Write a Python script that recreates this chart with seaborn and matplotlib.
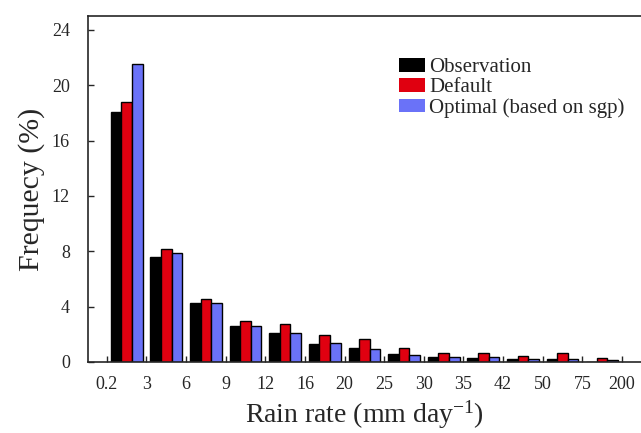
import numpy as np
import pandas as pd
import matplotlib
matplotlib.use("Agg")
import matplotlib.pyplot as plt
import seaborn as sns

# Bornes des classes de pluie (mm/jour)
bin_edges = ["0.2", "3", "6", "9", "12", "16", "20", "25", "30", "35", "42", "50", "75", "200"]
observation = [18.05, 7.6, 4.25, 2.6, 2.1, 1.3, 1.0, 0.58, 0.38, 0.26, 0.18, 0.18, 0.0]
default = [18.8, 8.15, 4.55, 2.95, 2.75, 1.95, 1.65, 1.03, 0.65, 0.65, 0.43, 0.63, 0.27]
optimal = [21.5, 7.9, 4.25, 2.57, 2.13, 1.37, 0.94, 0.53, 0.36, 0.36, 0.24, 0.24, 0.14]
series_names = ["Observation", "Default", "Optimal (based on sgp)"]

bins = [f"{a}-{b}" for a, b in zip(bin_edges[:-1], bin_edges[1:])]
df = pd.DataFrame({
    "bin": bins * 3,
    "freq": observation + default + optimal,
    "run": np.repeat(series_names, len(bins)),
})

sns.set_style("ticks")
plt.rcParams["font.family"] = ["Liberation Serif", "DejaVu Serif"]
plt.rcParams["mathtext.fontset"] = "custom"
plt.rcParams["mathtext.rm"] = "Liberation Serif"
plt.rcParams["mathtext.it"] = "Liberation Serif:italic"

fig = plt.figure(figsize=(6.41, 4.33), dpi=100)
ax = fig.add_axes([0.137, 0.164, 0.863, 0.799])

palette = ["#000000", "#e00010", "#6a72f8"]
sns.barplot(data=df, x="bin", y="freq", hue="run", order=bins, hue_order=series_names,
            palette=palette, saturation=1, edgecolor="black", linewidth=1.0, width=0.8, ax=ax)

ax.set_xlim(-0.98, 12.98)
ax.set_ylim(0, 25)
ax.set_xticks(np.arange(len(bin_edges)) - 0.5)
ax.set_xticklabels(bin_edges, fontsize=13)
ax.set_yticks(range(0, 25, 4))
ax.tick_params(axis="y", labelsize=13, pad=13)
ax.tick_params(axis="x", pad=10)
ax.tick_params(direction="in", length=4, width=1)
ax.spines["right"].set_visible(False)
for s in ["left", "bottom", "top"]:
    ax.spines[s].set_linewidth(1.2)

ax.set_xlabel("Rain rate (mm day$^{-1}$)", fontsize=20, labelpad=4)
ax.set_ylabel("Frequecy (%)", fontsize=21.5, labelpad=5)

leg = ax.legend(loc="upper left", bbox_to_anchor=(0.547, 0.902), frameon=False,
                fontsize=15, handlelength=1.25, handleheight=0.6, handletextpad=0.2,
                labelspacing=0.05, borderaxespad=0)
for h in leg.legend_handles:
    h.set_edgecolor("none")

fig.savefig("out.png", dpi=100)
